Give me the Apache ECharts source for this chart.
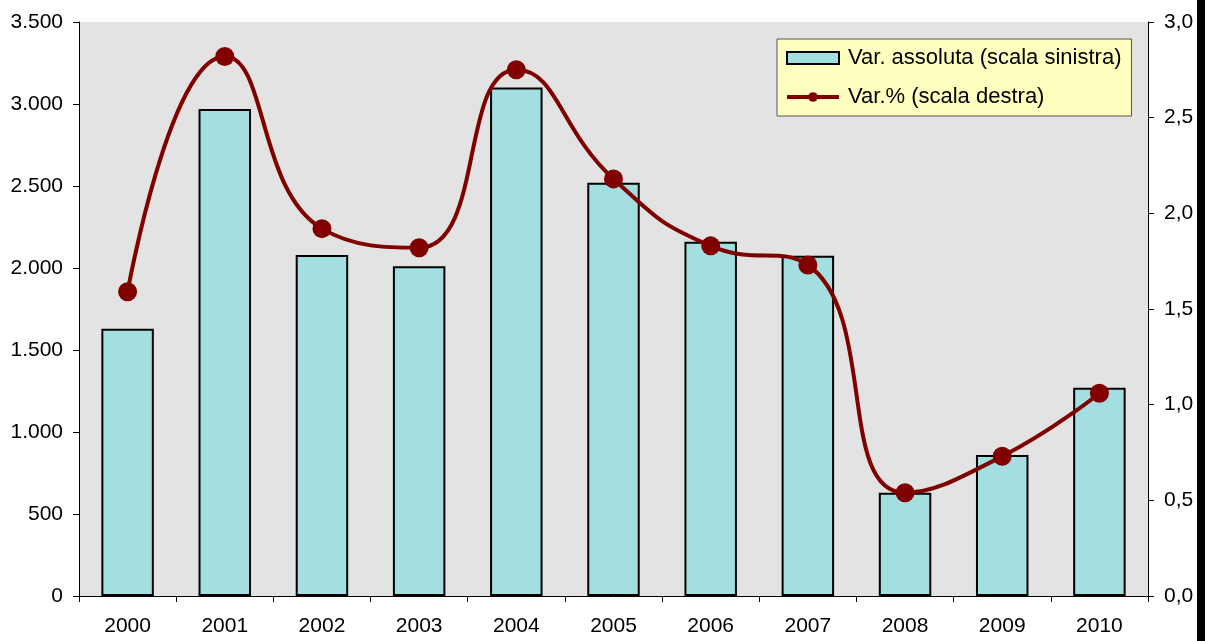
<!DOCTYPE html>
<html>
<head>
<meta charset="utf-8">
<script src="https://cdn.jsdelivr.net/npm/echarts@6/dist/echarts.min.js"></script>
<style>html,body{margin:0;padding:0;background:#fff}#c{width:1205px;height:641px}</style>
</head>
<body>
<div id="c"></div>
<script>
const years = ['2000','2001','2002','2003','2004','2005','2006','2007','2008','2009','2010'];
const varAssoluta = [1630, 2970, 2080, 2010, 3100, 2520, 2160, 2075, 630, 860, 1270];
const varPerc = [1.59, 2.82, 1.92, 1.82, 2.75, 2.18, 1.83, 1.73, 0.54, 0.73, 1.06];
const seriesNames = ['Var. assoluta (scala sinistra)', 'Var.% (scala destra)'];

const chart = echarts.init(document.getElementById('c'), null, {renderer: 'canvas'});
const font = 'Liberation Sans, Arial, sans-serif';
chart.setOption({
  animation: false,
  textStyle: {fontFamily: font},
  grid: {left: 79, right: 57, top: 22, bottom: 45, show: true, backgroundColor: '#e3e3e3', borderWidth: 0, containLabel: false},
  legend: {
    orient: 'vertical', left: 777, top: 39,
    backgroundColor: '#ffffc0', borderColor: '#555', borderWidth: 1,
    padding: [8, 10, 8, 8], itemGap: 17, itemWidth: 52, itemHeight: 12,
    textStyle: {fontSize: 22, color: '#000', fontFamily: font, padding: [0, 0, 0, 4]},
    data: [
      {name: seriesNames[0], icon: 'rect'},
      {name: seriesNames[1], lineStyle: {width: 4, color: '#800000'}}
    ]
  },
  xAxis: {
    type: 'category', data: years, boundaryGap: true,
    axisLine: {lineStyle: {color: '#000', width: 1}},
    axisTick: {show: true, length: 6, lineStyle: {color: '#000'}},
    axisLabel: {fontSize: 21, color: '#000', margin: 20, fontFamily: font}
  },
  yAxis: [
    {
      type: 'value', min: 0, max: 3500, interval: 500, position: 'left',
      axisLine: {show: true, lineStyle: {color: '#000'}},
      axisTick: {show: true, length: 6, lineStyle: {color: '#000'}},
      splitLine: {show: false},
      axisLabel: {fontSize: 21, color: '#000', margin: 16, fontFamily: font,
        formatter: v => v.toString().replace(/\B(?=(\d{3})+(?!\d))/g, '.')}
    },
    {
      type: 'value', min: 0, max: 3, interval: 0.5, position: 'right',
      axisLine: {show: true, lineStyle: {color: '#000'}},
      axisTick: {show: true, length: 6, lineStyle: {color: '#000'}},
      splitLine: {show: false},
      axisLabel: {fontSize: 21, color: '#000', margin: 16, fontFamily: font,
        formatter: v => v.toFixed(1).replace('.', ',')}
    }
  ],
  series: [
    {
      name: seriesNames[0], type: 'bar', yAxisIndex: 0, data: varAssoluta,
      barWidth: '54%',
      itemStyle: {color: '#a3dfe0', borderColor: '#000', borderWidth: 2}
    },
    {
      name: seriesNames[1], type: 'line', yAxisIndex: 1, data: varPerc,
      smooth: 0.5, symbol: 'circle', symbolSize: 19,
      lineStyle: {color: '#800000', width: 4},
      itemStyle: {color: '#800000'}
    }
  ],
  graphic: [
    {type: 'rect', left: 1197, top: 0, shape: {width: 8, height: 641}, style: {fill: '#000'}, z: 100}
  ]
});
</script>
</body>
</html>
